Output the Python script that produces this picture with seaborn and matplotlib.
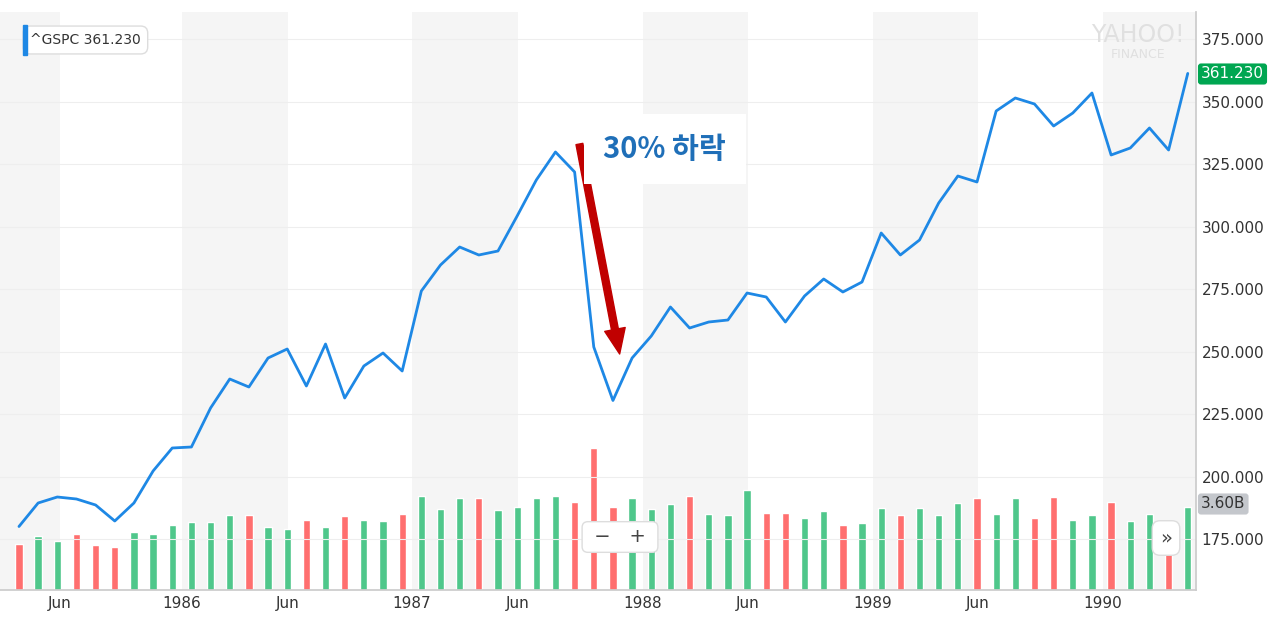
import matplotlib
matplotlib.use("Agg")
import matplotlib.pyplot as plt
import seaborn as sns
import numpy as np
import pandas as pd

sns.set_theme(style="white")
plt.rcParams['font.family'] = ['DejaVu Sans', 'Noto Sans CJK KR']

close = [180.0, 189.4, 191.8, 191.0, 188.6, 182.2, 189.4, 202.2, 211.4, 211.8,
         227.4, 239.0, 235.8, 247.4, 251.0, 236.2, 253.0, 231.4, 244.2, 249.4,
         242.2, 274.2, 284.6, 291.8, 288.6, 290.2, 304.2, 318.6, 329.8, 321.8,
         251.8, 230.4, 247.4, 256.2, 267.8, 259.4, 261.8, 262.6, 273.4, 271.8,
         261.8, 272.2, 279.0, 273.8, 277.8, 297.4, 288.6, 294.6, 309.4, 320.2,
         317.8, 346.2, 351.4, 349.0, 340.2, 345.4, 353.4, 328.6, 331.4, 339.4,
         330.6, 361.23]
volume_b = [2.0, 2.35, 2.13, 2.43, 1.96, 1.87, 2.52, 2.43, 2.82, 2.95,
            2.95, 3.26, 3.26, 2.73, 2.65, 3.04, 2.73, 3.21, 3.04, 3.0,
            3.3, 4.08, 3.52, 4.0, 4.0, 3.47, 3.6, 4.0, 4.08, 3.82,
            6.16, 3.6, 4.0, 3.52, 3.73, 4.08, 3.3, 3.26, 4.34, 3.34,
            3.34, 3.12, 3.43, 2.82, 2.91, 3.56, 3.26, 3.56, 3.26, 3.78,
            4.0, 3.3, 4.0, 3.12, 4.04, 3.04, 3.26, 3.82, 3.0, 3.3,
            2.08, 3.6]
direction = list("duuddduuuu" "uuduududuu" "duuuduuuud" "dduuuduuud"
                 "duuduuduuu" "duudduuduu" "du")
tick_pos = [2.14, 8.51, 14.04, 20.51, 26.04, 32.57, 38.05, 44.57, 50.05, 56.58]
tick_labels = ["Jun", "1986", "Jun", "1987", "Jun", "1988", "Jun", "1989", "Jun", "1990"]
y_ticks = [175, 200, 225, 250, 275, 300, 325, 350, 375]

df = pd.DataFrame({"i": np.arange(len(close)), "close": close, "vol": volume_b,
                   "dir": direction})

fig = plt.figure(figsize=(12.79, 6.23), dpi=100)
ax = fig.add_axes([0, 33/623, 1196/1279, (590-12)/623])
axv = ax.twinx()
ax.set_zorder(axv.get_zorder() + 1)
ax.patch.set_visible(False)

xmin, xmax = -0.99, 61.43
bands = [xmin] + tick_pos
for k in range(0, len(bands) - 1, 2):
    axv.axvspan(bands[k], bands[k+1], color="#f5f5f5", zorder=0, lw=0)
axv.axvspan(tick_pos[-1], xmax, color="#f5f5f5", zorder=0, lw=0)

pal = {"u": "#4fc78b", "d": "#ff6f6f"}
for d in ["u", "d"]:
    sub = df[df.dir == d]
    axv.bar(sub.i, sub.vol, width=0.38, color=pal[d], zorder=2)
axv.set_ylim(0, 25.1)
axv.set_yticks([])
for s in axv.spines.values():
    s.set_visible(False)

sns.lineplot(data=df, x="i", y="close", ax=ax, color="#1e88e5", lw=2)
ax.set_xlim(xmin, xmax)
ax.set_ylim(154.6, 385.8)
ax.yaxis.tick_right()
ax.set_yticks(y_ticks)
ax.set_yticklabels([f"{v:.3f}" for v in y_ticks], fontsize=11, color="#333333")
ax.set_xticks(tick_pos)
ax.set_xticklabels(tick_labels, fontsize=11, color="#333333")
ax.tick_params(axis="both", length=0, pad=4)
ax.set_xlabel(""); ax.set_ylabel("")
ax.grid(axis="y", color="#eeeeee", lw=0.8)
for k, s in ax.spines.items():
    s.set_visible(k in ("right", "bottom"))
    s.set_color("#cccccc")

ax.annotate("", xy=(31.35, 249), xytext=(29.25, 333),
            arrowprops=dict(width=5, headwidth=15, headlength=18,
                            color="#c00000", shrink=0))
ax.text(30.5, 331, "30% 하락", fontsize=21, fontweight="bold", color="#1f6fb8",
        family=["Noto Sans CJK KR"], va="center", ha="left",
        bbox=dict(facecolor="white", edgecolor="none", pad=14))

fig.text(30/1279, 1 - 40/623, "^GSPC 361.230", fontsize=10, color="#333333", va="center",
         bbox=dict(facecolor="white", edgecolor="#dddddd", boxstyle="round,pad=0.5"))
fig.patches.append(plt.Rectangle((23/1279, 1 - 55/623), 4/1279, 30/623,
                                 transform=fig.transFigure, color="#1e88e5", zorder=10))
fig.text(1201/1279, 1 - 74/623, "361.230", fontsize=11, color="white", va="center",
         bbox=dict(facecolor="#00a651", edgecolor="none", boxstyle="round,pad=0.2"))
fig.text(1201/1279, 1 - 504/623, "3.60B", fontsize=11, color="#333333", va="center",
         bbox=dict(facecolor="#c4c7cc", edgecolor="none", boxstyle="round,pad=0.2"))
fig.text(1138/1279, 1 - 35/623, "YAHOO!", fontsize=17, color="#e0e0e0", ha="center", va="center")
fig.text(1138/1279, 1 - 55/623, "FINANCE", fontsize=9, color="#e0e0e0", ha="center", va="center")
fig.text(620/1279, 1 - 537/623, " −   + ", fontsize=14, color="#444444", ha="center", va="center",
         bbox=dict(facecolor="white", edgecolor="#dddddd", boxstyle="round,pad=0.3"))
fig.text(1166/1279, 1 - 538/623, "»", fontsize=14, color="#444444", ha="center", va="center",
         bbox=dict(facecolor="white", edgecolor="#dddddd", boxstyle="round,pad=0.4"))

fig.savefig("out.png", dpi=100)
